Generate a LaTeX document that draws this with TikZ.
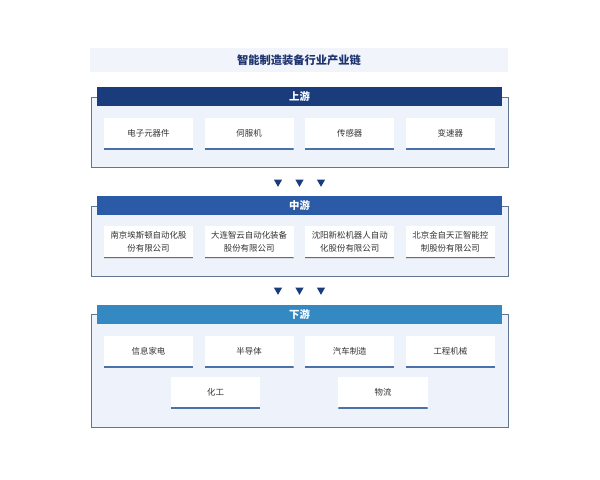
\documentclass[tikz,border=0pt]{standalone}
\usepackage{fontspec}
\setmainfont{Noto Sans CJK SC}
\usetikzlibrary{
        shadows,
        shapes,
        positioning
    }
\definecolor{navyhead}{HTML}{1B3C7C}
\definecolor{midhead}{HTML}{2B5BA6}
\definecolor{lowhead}{HTML}{3489C3}
\definecolor{framefill}{HTML}{EEF3FB}
\definecolor{frameline}{HTML}{5F7590}
\definecolor{titlefill}{HTML}{F1F4FA}
\definecolor{boxline}{HTML}{4A72A8}
\definecolor{titletext}{HTML}{1E3470}

\begin{document}
\begin{tikzpicture}
[x=0.025cm, y=-0.025cm,
titleband/.style={rectangle, fill=titlefill, minimum width=10.45cm, minimum height=0.6cm, inner sep=0pt, text=titletext, font=\bfseries\fontsize{8}{9}\selectfont},
frame/.style={rectangle, draw=frameline, fill=framefill, line width=0.6pt, minimum width=10.425cm, inner sep=0pt},
header/.style={rectangle, minimum width=10.125cm, minimum height=0.475cm, inner sep=0pt, text=white, font=\bfseries\fontsize{7.4}{8}\selectfont},
item/.style={rectangle, fill=white, minimum width=2.225cm, minimum height=0.78cm, inner sep=1pt, align=center, text=black!80, font=\fontsize{6}{9.4}\selectfont, drop shadow={opacity=0.2, shadow xshift=0pt, shadow yshift=-0.8pt},
  path picture={\draw[boxline, line width=1.2pt] (path picture bounding box.south west) -- (path picture bounding box.south east);}},
flow/.style={regular polygon, regular polygon sides=3, shape border rotate=180, fill=navyhead, minimum size=0.24cm, inner sep=0pt},
node distance=2.515cm]
\useasboundingbox (0,0) rectangle (600,480);

\node (title) [titleband] at (299,60) {智能制造装备行业产业链};

% upstream
\node (upframe) [frame, minimum height=1.75cm] at (299.5,132) {};
\node (uphead) [header, fill=navyhead] at (299.5,96.5) {上游};
\node (up1) [item] at (148.5,133.5) {电子元器件};
\node (up2) [item, right of=up1] {伺服机};
\node (up3) [item, right of=up2] {传感器};
\node (up4) [item, right of=up3] {变速器};

\node (fa1) [flow] at (278,182) {};
\node (fa2) [flow] at (299.5,182) {};
\node (fa3) [flow] at (321,182) {};

% midstream
\node (midframe) [frame, minimum height=1.75cm] at (299.5,241) {};
\node (midhead) [header, fill=midhead] at (299.5,205.5) {中游};
\node (mid1) [item] at (148.5,242) {南京埃斯顿自动化股\\份有限公司};
\node (mid2) [item, right of=mid1] {大连智云自动化装备\\股份有限公司};
\node (mid3) [item, right of=mid2] {沈阳新松机器人自动\\化股份有限公司};
\node (mid4) [item, right of=mid3] {北京金自天正智能控\\制股份有限公司};

\node (fb1) [flow] at (278,290) {};
\node (fb2) [flow] at (299.5,290) {};
\node (fb3) [flow] at (321,290) {};

% downstream
\node (lowframe) [frame, minimum height=2.825cm] at (299.5,370.5) {};
\node (lowhead) [header, fill=lowhead] at (299.5,314.5) {下游};
\node (low1) [item] at (148.5,351.5) {信息家电};
\node (low2) [item, right of=low1] {半导体};
\node (low3) [item, right of=low2] {汽车制造};
\node (low4) [item, right of=low3] {工程机械};
\node (low5) [item] at (215.5,392.5) {化工};
\node (low6) [item] at (383,392.5) {物流};

\end{tikzpicture}
\end{document}
